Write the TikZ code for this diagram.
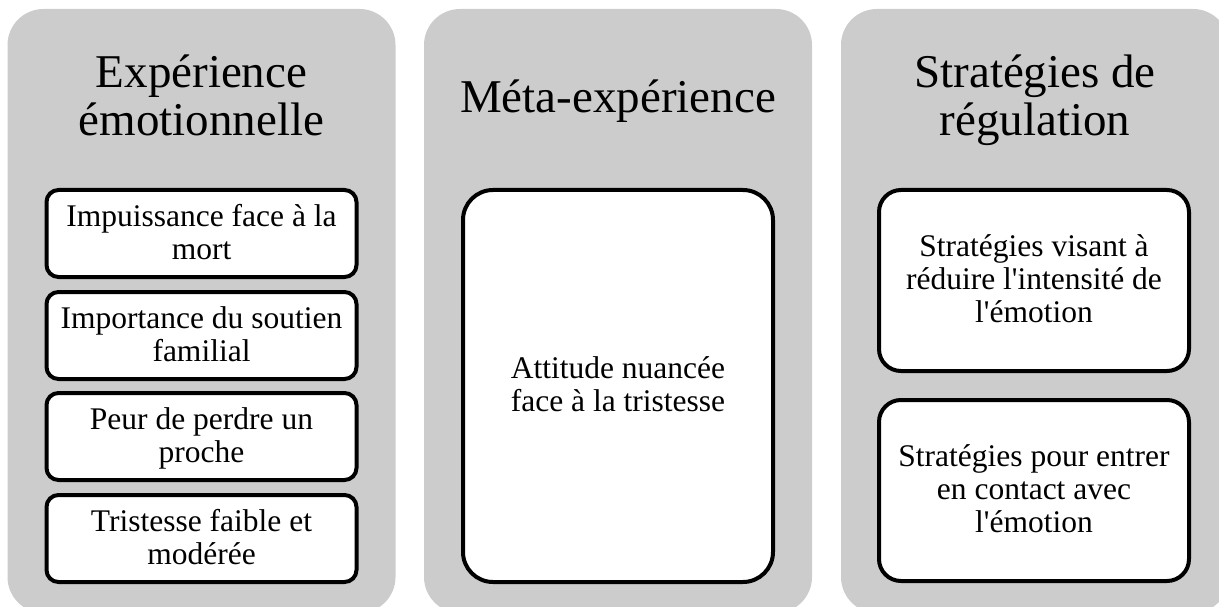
\documentclass[tikz,border=0pt]{standalone}
\usepackage{fontspec}
\setmainfont{Liberation Serif}[Ligatures=TeXOff]
\definecolor{panelgray}{HTML}{CCCCCC}
\tikzset{
  panel/.style={rectangle, rounded corners=36pt, fill=panelgray, draw=none, minimum width=388pt, minimum height=604pt, inner sep=0pt},
  titletext/.style={align=center, inner sep=0pt, font=\fontsize{47}{48.5}\selectfont,
    execute at begin node={\rule{0pt}{36pt}}, execute at end node={\rule[-12pt]{0pt}{12pt}}},
  itembox/.style={rectangle, draw=black, line width=4pt, fill=white, minimum width=310pt, inner sep=0pt, align=center, font=\fontsize{31.5}{33}\selectfont},
  boxtext/.style={align=center, inner sep=0pt, font=\fontsize{31.5}{33}\selectfont,
    execute at begin node={\rule{0pt}{24pt}}, execute at end node={\rule[-8pt]{0pt}{8pt}}},
  smallbox/.style={itembox, rounded corners=12pt, minimum height=87pt},
  bigbox/.style={itembox, rounded corners=30pt, minimum height=392pt},
  midbox/.style={itembox, rounded corners=22pt, minimum height=181pt},
}
\begin{document}
\begin{tikzpicture}[x=1pt,y=-1pt]
\path[use as bounding box] (0,0) rectangle (1219,607);
\clip (0,0) rectangle (1219,607);
% panels
\node[panel] (p1) at (201.5,311) {};
\node[panel] (p2) at (618,311) {};
\node[panel] (p3) at (1035,311) {};
% titles
\node[titletext] (t1) at (201.5,101) {Expérience\\émotionnelle};
\node[titletext] (t2) at (618,101) {Méta-expérience};
\node[titletext] (t3) at (1035,101) {Stratégies de\\régulation};
% panel 1 boxes
\node[smallbox] (a1) at (201.5,233.5) {};
\node[smallbox] (a2) at (201.5,335.5) {};
\node[smallbox] (a3) at (201.5,436.5) {};
\node[smallbox] (a4) at (201.5,538.5) {};
\node[boxtext] (a1t) at ([yshift=-2.5pt]a1.center) {Impuissance face à la\\mort};
\node[boxtext] (a2t) at ([yshift=-2.5pt]a2.center) {Importance du soutien\\familial};
\node[boxtext] (a3t) at ([yshift=-2.5pt]a3.center) {Peur de perdre un\\proche};
\node[boxtext] (a4t) at ([yshift=-2.5pt]a4.center) {Tristesse faible et\\modérée};
% panel 2 box
\node[bigbox] (b1) at (618,386) {};
\node[boxtext] (b1t) at ([yshift=-2.5pt]b1.center) {Attitude nuancée\\face à la tristesse};
% panel 3 boxes
\node[midbox] (c1) at (1034,280.5) {};
\node[midbox] (c2) at (1034,490.5) {};
\node[boxtext] (c1t) at ([yshift=-2.5pt]c1.center) {Stratégies visant à\\réduire l'intensité de\\l'émotion};
\node[boxtext] (c2t) at ([yshift=-2.5pt]c2.center) {Stratégies pour entrer\\en contact avec\\l'émotion};
\end{tikzpicture}
\end{document}
